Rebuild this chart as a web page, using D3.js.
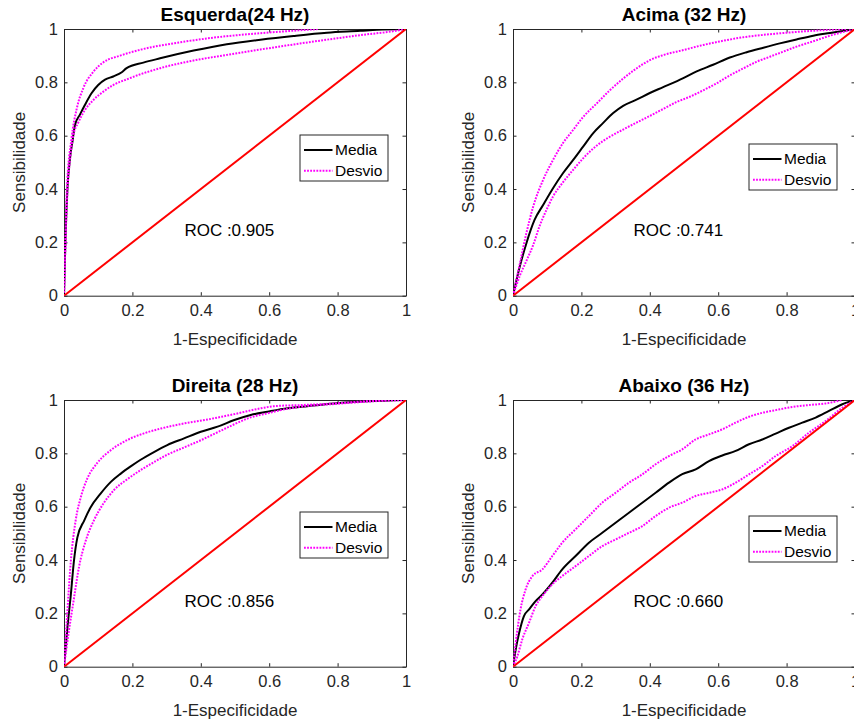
<!DOCTYPE html>
<html>
<head>
<meta charset="utf-8">
<script src="https://cdn.jsdelivr.net/npm/d3@7"></script>
<style>
  body { margin: 0; background: #fff; }
  svg { display: block; font-family: "Liberation Sans", Arial, sans-serif; }
</style>
</head>
<body>
<svg id="chart" width="854" height="722"></svg>
<script>
// curves: [1-especificidade, sensibilidade]
var esquerdaMedia = [[0,0],[0.004,0.2],[0.01,0.4],[0.018,0.52],[0.025,0.58],[0.032,0.64],[0.047,0.68],[0.061,0.715],[0.081,0.76],[0.1,0.79],[0.12,0.81],[0.144,0.822],[0.169,0.838],[0.183,0.853],[0.232,0.874],[0.281,0.89],[0.379,0.919],[0.476,0.943],[0.574,0.96],[0.671,0.974],[0.769,0.986],[0.866,0.993],[0.915,0.997],[1,1]];
var esquerdaSup = [[0,0],[0.004,0.2],[0.008,0.39],[0.022,0.59],[0.037,0.7],[0.057,0.78],[0.086,0.84],[0.115,0.875],[0.164,0.9],[0.232,0.925],[0.33,0.948],[0.427,0.966],[0.525,0.979],[0.622,0.989],[0.745,1]];
var esquerdaInf = [[0,0],[0.003,0.14],[0.01,0.39],[0.018,0.515],[0.027,0.6],[0.042,0.65],[0.061,0.696],[0.086,0.734],[0.115,0.765],[0.144,0.79],[0.183,0.811],[0.232,0.834],[0.281,0.853],[0.379,0.882],[0.476,0.903],[0.574,0.923],[0.671,0.942],[0.769,0.96],[0.866,0.977],[0.964,0.992],[1,1]];

var acimaMedia = [[0,0],[0.02,0.11],[0.039,0.196],[0.063,0.284],[0.088,0.34],[0.117,0.403],[0.146,0.459],[0.176,0.509],[0.205,0.559],[0.234,0.609],[0.263,0.647],[0.293,0.685],[0.322,0.712],[0.361,0.735],[0.4,0.76],[0.439,0.782],[0.498,0.816],[0.537,0.841],[0.585,0.866],[0.634,0.893],[0.683,0.913],[0.732,0.93],[0.78,0.946],[0.829,0.961],[0.878,0.975],[0.927,0.985],[1,1]];
var acimaSup = [[0,0],[0.02,0.12],[0.039,0.234],[0.059,0.334],[0.088,0.434],[0.117,0.509],[0.146,0.572],[0.176,0.622],[0.205,0.67],[0.244,0.72],[0.283,0.77],[0.322,0.814],[0.361,0.852],[0.4,0.883],[0.439,0.902],[0.498,0.921],[0.556,0.94],[0.615,0.956],[0.673,0.969],[0.732,0.978],[0.79,0.985],[0.849,0.991],[0.927,0.997],[0.976,1]];
var acimaInf = [[0,0],[0.02,0.075],[0.039,0.13],[0.059,0.19],[0.078,0.262],[0.098,0.322],[0.117,0.372],[0.146,0.425],[0.176,0.472],[0.205,0.515],[0.244,0.562],[0.283,0.596],[0.322,0.623],[0.361,0.649],[0.4,0.674],[0.439,0.7],[0.478,0.726],[0.517,0.746],[0.556,0.77],[0.595,0.796],[0.634,0.826],[0.673,0.852],[0.712,0.877],[0.751,0.896],[0.79,0.915],[0.829,0.934],[0.878,0.954],[0.927,0.975],[1,1]];

var direitaMedia = [[0,0],[0.01,0.147],[0.02,0.27],[0.029,0.396],[0.039,0.484],[0.059,0.548],[0.078,0.598],[0.107,0.649],[0.137,0.693],[0.166,0.724],[0.195,0.751],[0.224,0.776],[0.263,0.805],[0.302,0.831],[0.351,0.856],[0.4,0.881],[0.449,0.9],[0.498,0.925],[0.546,0.944],[0.595,0.956],[0.654,0.969],[0.712,0.977],[0.79,0.987],[0.888,0.995],[1,1]];
var direitaSup = [[0,0],[0.01,0.21],[0.02,0.396],[0.034,0.548],[0.049,0.635],[0.068,0.705],[0.098,0.765],[0.137,0.812],[0.185,0.85],[0.234,0.875],[0.283,0.893],[0.351,0.912],[0.42,0.927],[0.498,0.947],[0.576,0.969],[0.615,0.977],[0.693,0.981],[0.79,0.987],[0.888,0.996],[0.946,1]];
var direitaInf = [[0,0],[0.015,0.14],[0.029,0.255],[0.044,0.375],[0.063,0.47],[0.088,0.55],[0.117,0.615],[0.146,0.662],[0.185,0.703],[0.224,0.737],[0.263,0.767],[0.302,0.795],[0.351,0.822],[0.4,0.849],[0.449,0.879],[0.498,0.909],[0.546,0.935],[0.595,0.95],[0.644,0.965],[0.693,0.975],[0.79,0.985],[0.888,0.994],[1,1]];

var abaixoMedia = [[0,0],[0.008,0.065],[0.018,0.127],[0.032,0.19],[0.047,0.215],[0.066,0.246],[0.086,0.271],[0.115,0.315],[0.144,0.365],[0.183,0.415],[0.222,0.465],[0.261,0.502],[0.3,0.54],[0.339,0.577],[0.378,0.615],[0.417,0.652],[0.456,0.69],[0.495,0.722],[0.534,0.74],[0.573,0.771],[0.612,0.792],[0.651,0.809],[0.69,0.834],[0.729,0.852],[0.768,0.874],[0.807,0.896],[0.846,0.915],[0.885,0.934],[0.924,0.959],[0.963,0.984],[1,1]];
var abaixoSup = [[0,0],[0.008,0.09],[0.022,0.215],[0.037,0.29],[0.057,0.34],[0.086,0.365],[0.115,0.415],[0.144,0.465],[0.183,0.515],[0.222,0.565],[0.261,0.615],[0.3,0.652],[0.339,0.69],[0.378,0.721],[0.417,0.759],[0.456,0.79],[0.495,0.815],[0.534,0.852],[0.573,0.871],[0.612,0.89],[0.651,0.915],[0.69,0.937],[0.729,0.952],[0.768,0.962],[0.817,0.974],[0.865,0.981],[0.914,0.987],[0.963,1]];
var abaixoInf = [[0,0],[0.013,0.04],[0.027,0.102],[0.047,0.165],[0.066,0.227],[0.086,0.265],[0.115,0.309],[0.144,0.34],[0.183,0.377],[0.222,0.415],[0.261,0.452],[0.3,0.477],[0.339,0.502],[0.378,0.527],[0.417,0.565],[0.456,0.596],[0.495,0.615],[0.534,0.64],[0.573,0.652],[0.612,0.665],[0.651,0.69],[0.69,0.721],[0.729,0.752],[0.768,0.79],[0.817,0.827],[0.865,0.877],[0.914,0.921],[0.963,0.971],[1,1]];

var titles = ["Esquerda(24 Hz)", "Acima (32 Hz)", "Direita (28 Hz)", "Abaixo (36 Hz)"];
var rocValues = ["0.905", "0.741", "0.856", "0.660"];
var tickValues = [0, 0.2, 0.4, 0.6, 0.8, 1];
var legendLabels = ["Media", "Desvio"];

var curves = [
  [esquerdaMedia, esquerdaSup, esquerdaInf],
  [acimaMedia, acimaSup, acimaInf],
  [direitaMedia, direitaSup, direitaInf],
  [abaixoMedia, abaixoSup, abaixoInf]
];

// layout of the 2x2 grid (pixels)
var panels = [
  {left: 64, top: 29, legTop: 106},
  {left: 513, top: 29, legTop: 115},
  {left: 64, top: 400, legTop: 112},
  {left: 513, top: 400, legTop: 116}
];
var pw = 342, ph = 266.7;
var axisColor = "#262626";

var svg = d3.select("#chart");
svg.append("rect").attr("width", 854).attr("height", 722).attr("fill", "#fff");

panels.forEach(function(p, i) {
  var x = d3.scaleLinear().domain([0, 1]).range([0, pw]);
  var y = d3.scaleLinear().domain([0, 1]).range([ph, 0]);
  var g = svg.append("g").attr("transform", "translate(" + p.left + "," + p.top + ")");

  g.append("clipPath").attr("id", "clip" + i)
    .append("rect").attr("width", pw).attr("height", ph);

  // axes with inward ticks, box on all four sides
  var fmt = function(d) { return d === 0 || d === 1 ? d3.format("d")(d) : d3.format(".1f")(d); };
  var xb = g.append("g").attr("transform", "translate(0," + ph + ")")
    .call(d3.axisBottom(x).tickValues(tickValues).tickSizeInner(-3.5).tickSizeOuter(0).tickPadding(9).tickFormat(fmt));
  var yl = g.append("g")
    .call(d3.axisLeft(y).tickValues(tickValues).tickSizeInner(-3.5).tickSizeOuter(0).tickPadding(6).tickFormat(fmt));
  var xt = g.append("g")
    .call(d3.axisTop(x).tickValues(tickValues).tickSizeInner(-3.5).tickSizeOuter(0).tickFormat(""));
  var yr = g.append("g").attr("transform", "translate(" + pw + ",0)")
    .call(d3.axisRight(y).tickValues(tickValues).tickSizeInner(-3.5).tickSizeOuter(0).tickFormat(""));
  [xb, yl, xt, yr].forEach(function(a) {
    a.select(".domain").attr("stroke", axisColor);
    a.selectAll(".tick line").attr("stroke", axisColor);
    a.selectAll(".tick text").attr("fill", axisColor)
      .style("font-size", "16.5px").style("font-family", "'Liberation Sans', Arial, sans-serif");
  });

  var line = d3.line()
    .x(function(d) { return x(d[0]); })
    .y(function(d) { return y(d[1]); })
    .curve(d3.curveMonotoneX);

  var plot = g.append("g").attr("clip-path", "url(#clip" + i + ")");
  var c = curves[i];
  plot.append("path").datum(c[0]).attr("d", line)
    .attr("fill", "none").attr("stroke", "#000").attr("stroke-width", 2);
  [c[1], c[2]].forEach(function(dd) {
    plot.append("path").datum(dd).attr("d", line)
      .attr("fill", "none").attr("stroke", "#ff00ff").attr("stroke-width", 2)
      .attr("stroke-dasharray", "1.8,1.3");
  });
  plot.append("path").datum([[0, 0], [1, 1]]).attr("d", d3.line().x(function(d) { return x(d[0]); }).y(function(d) { return y(d[1]); }))
    .attr("fill", "none").attr("stroke", "#ff0000").attr("stroke-width", 2);

  // text
  g.append("text").attr("x", pw / 2).attr("y", -8)
    .attr("text-anchor", "middle").attr("font-weight", "bold")
    .attr("font-size", "19px").attr("fill", "#000").text(titles[i]);
  g.append("text").attr("x", pw / 2).attr("y", ph + 49.5)
    .attr("text-anchor", "middle").attr("font-size", "17px").attr("fill", axisColor)
    .text("1-Especificidade");
  g.append("text").attr("transform", "translate(-39.5," + ph / 2 + ") rotate(-90)")
    .attr("text-anchor", "middle").attr("font-size", "17px").attr("fill", axisColor)
    .text("Sensibilidade");
  g.append("text").attr("x", x(0.352)).attr("y", y(0.247)).attr("dy", "0.35em")
    .attr("font-size", "17px").attr("fill", "#000")
    .text("ROC :" + rocValues[i]);

  // legend
  var lg = g.append("g").attr("transform", "translate(236," + p.legTop + ")");
  lg.append("rect").attr("width", 88).attr("height", 46)
    .attr("fill", "#fff").attr("stroke", axisColor).attr("stroke-width", 1);
  legendLabels.forEach(function(lab, k) {
    var ly = 15 + k * 20.7;
    lg.append("line").attr("x1", 4).attr("x2", 32.5).attr("y1", ly).attr("y2", ly)
      .attr("stroke", k === 0 ? "#000" : "#ff00ff").attr("stroke-width", 2)
      .attr("stroke-dasharray", k === 0 ? null : "1.8,1.3");
    lg.append("text").attr("x", 35).attr("y", ly).attr("dy", "0.35em")
      .attr("font-size", "15.5px").attr("fill", "#000").text(lab);
  });
});
</script>
</body>
</html>
